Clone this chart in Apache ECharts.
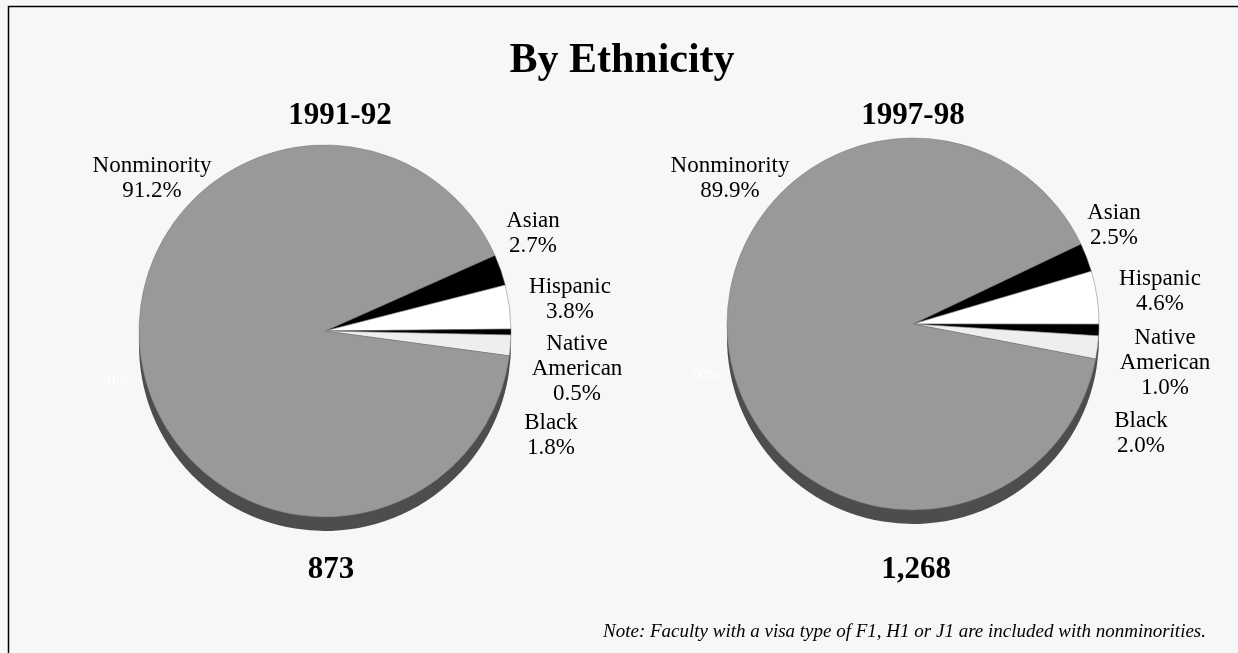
<!DOCTYPE html>
<html><head><meta charset="utf-8">
<script src="https://cdn.jsdelivr.net/npm/echarts@6/dist/echarts.min.js"></script>
<style>html,body{margin:0;padding:0;background:#f7f7f7}#c{width:1238px;height:653px}</style>
</head><body><div id="c"></div>
<script>
const categories = ['Asian', 'Hispanic', 'Native\nAmerican', 'Black', 'Nonminority'];
const values9192 = [2.7, 3.8, 0.5, 1.8, 91.2];
const values9798 = [2.5, 4.6, 1.0, 2.0, 89.9];
const years = ['1991-92', '1997-98'];
const totals = ['873', '1,268'];
const colors = ['#000000', '#ffffff', '#000000', '#eeeeee', '#999999'];

// label anchor positions (layout only): [centerX, topY]
const labelPos = [
  [[533, 208], [570, 274], [577, 331], [551, 410], [152, 153]],
  [[1114, 200], [1160, 266], [1165, 325], [1141, 408], [730, 153]]
];
const centers = [[325, 331], [913, 324]];
const R = 186, depth = 14;

const FONT = 'Liberation Serif';
const chart = echarts.init(document.getElementById('c'));

function mkData(vals) {
  return categories.map((c, i) => ({ name: c, value: vals[i], itemStyle: { color: colors[i] } }));
}
const series = [];
[values9192, values9798].forEach((vals, k) => {
  const c = centers[k];
  series.push({
    type: 'pie', silent: true, animation: false, z: 1,
    center: [c[0], c[1] + depth], radius: R,
    startAngle: 24.5, clockwise: true,
    label: { show: false }, labelLine: { show: false },
    data: [{ value: 1, itemStyle: { color: '#4d4d4d' } }]
  });
  series.push({
    type: 'pie', animation: false, z: 2,
    center: c, radius: R,
    startAngle: k === 0 ? 24.0 : 25.5, clockwise: true,
    itemStyle: { borderColor: '#777', borderWidth: 0.5 },
    labelLine: { show: false },
    label: {
      show: true, position: 'outside', overflow: 'none', width: 200,
      formatter: p => p.name + '\n' + p.value.toFixed(1) + '%',
      fontFamily: FONT, fontSize: 23, lineHeight: 25, color: '#000', align: 'center'
    },
    labelLayout: p => ({
      x: labelPos[k][p.dataIndex][0], y: labelPos[k][p.dataIndex][1],
      align: 'center', verticalAlign: 'top', hideOverlap: false
    }),
    data: mkData(vals)
  });
});

const graphics = [
  { type: 'rect', shape: { x: 8.5, y: 6.5, width: 1300, height: 700 }, style: { fill: 'none', stroke: '#000', lineWidth: 1.5 }, z: -1 },
  { type: 'text', x: 622, y: 61, style: { text: 'By Ethnicity', font: 'bold 42px "Liberation Serif"', fill: '#000', textAlign: 'center', textVerticalAlign: 'middle' } },
  { type: 'text', x: 1206, y: 632, style: { text: 'Note: Faculty with a visa type of F1, H1 or J1 are included with nonminorities.', font: 'italic 19px "Liberation Serif"', fill: '#000', textAlign: 'right', textVerticalAlign: 'middle' } },
  { type: 'text', x: 116, y: 381, style: { text: '91%', font: '14px "Liberation Serif"', fill: '#ffffff', textAlign: 'center', textVerticalAlign: 'middle' } },
  { type: 'text', x: 706, y: 375, style: { text: '90%', font: '14px "Liberation Serif"', fill: '#ffffff', textAlign: 'center', textVerticalAlign: 'middle' } }
];
const yearX = [340, 913], totalX = [331, 916];
years.forEach((y, k) => {
  graphics.push({ type: 'text', x: yearX[k], y: 116, style: { text: y, font: 'bold 31px "Liberation Serif"', fill: '#000', textAlign: 'center', textVerticalAlign: 'middle' } });
  graphics.push({ type: 'text', x: totalX[k], y: 570, style: { text: totals[k], font: 'bold 31px "Liberation Serif"', fill: '#000', textAlign: 'center', textVerticalAlign: 'middle' } });
});

chart.setOption({
  backgroundColor: '#f7f7f7',
  animation: false,
  series: series,
  graphic: graphics
});
</script></body></html>
